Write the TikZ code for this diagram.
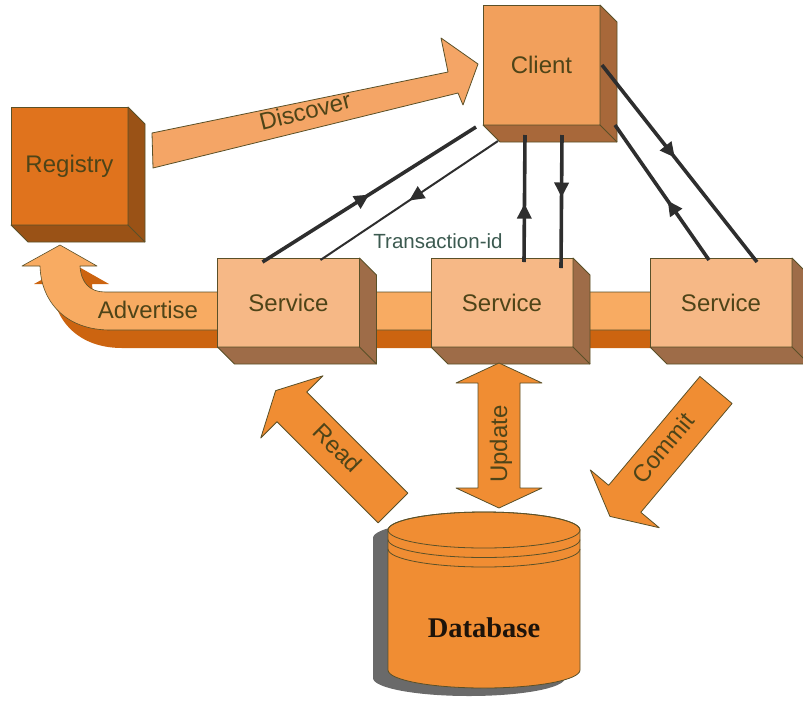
\documentclass[tikz,border=0pt]{standalone}
\usepackage{fontspec}
\setmainfont{Liberation Sans}
\newfontfamily\serifface{Liberation Serif}
\usetikzlibrary{calc,arrows.meta,decorations.markings}

\definecolor{edge}{HTML}{5A5028}
\definecolor{labeltext}{HTML}{4E4418}
\definecolor{regfront}{HTML}{E0731D}
\definecolor{regside}{HTML}{9A5216}
\definecolor{clifront}{HTML}{F2A05C}
\definecolor{cliside}{HTML}{A8683A}
\definecolor{svcfront}{HTML}{F6B886}
\definecolor{svcside}{HTML}{9E6C48}
\definecolor{bandlight}{HTML}{F8AB62}
\definecolor{banddark}{HTML}{CC6410}
\definecolor{discfill}{HTML}{F4A566}
\definecolor{dbfill}{HTML}{F08D33}
\definecolor{dbshadow}{HTML}{6A6A6A}
\definecolor{txid}{HTML}{3C5A50}
\definecolor{wirecol}{HTML}{2E2E2E}

\tikzset{
  face/.style={draw=edge, line width=0.8pt, inner sep=0pt, outer sep=0pt,
    text=labeltext, font=\fontsize{24}{28}\selectfont},
  regface/.style={face, fill=regfront, minimum width=117pt, minimum height=118pt},
  cliface/.style={face, fill=clifront, minimum width=117pt, minimum height=120pt},
  svcface/.style={face, fill=svcfront, minimum width=142pt, minimum height=89pt},
  label/.style={text=labeltext, font=\fontsize{24}{28}\selectfont, inner sep=0pt},
  blockfill/.style={fill=dbfill, draw=edge, line width=0.8pt, line join=round},
  wire/.style={draw=wirecol, line width=3.6pt},
  thinwire/.style={draw=wirecol, line width=2pt},
  midarrow/.style={postaction={decorate}, decoration={markings,
    mark=at position #1 with {\arrow{Triangle[length=15pt,width=14pt]}}}}
}

% depth faces (right side and bottom) of a box whose front is a node
\newcommand\boxdepth[2]{%
  \filldraw[fill=#2, draw=edge, line width=0.8pt, line join=round]
    (#1.north east) -- ++(17,17) -- ($(#1.south east)+(17,17)$)
    -- ($(#1.south west)+(17,17)$) -- (#1.south west) -- (#1.south east) -- cycle;
  \draw[edge, line width=0.8pt] (#1.south east) -- ++(17,17);
}

\begin{document}
\begin{tikzpicture}[x=1pt, y=-1pt]
\useasboundingbox (0,0) rectangle (803,705);

% advertise band: dark extrusion, then light front
\path[fill=banddark] [xshift=12pt, yshift=-18pt]
  (800,292) -- (105,292) .. controls (90,292) and (81,283) .. (80,266)
  -- (97,266) -- (60,245) -- (22,266) -- (40,266)
  .. controls (41,302) and (66,330) .. (110,330) -- (800,330) -- cycle;
\path[fill=bandlight, draw=edge, line width=0.6pt, line join=round]
  (800,292) -- (105,292) .. controls (90,292) and (81,283) .. (80,266)
  -- (97,266) -- (60,245) -- (22,266) -- (40,266)
  .. controls (41,302) and (66,330) .. (110,330) -- (800,330);
\node[label] (adv) at (148,310) {Advertise};

% services
\node[svcface] (s1) at (288.5,302.5) {Service};
\node[svcface] (s2) at (502,302.5) {Service};
\node[svcface] (s3) at (721,302.5) {Service};
\boxdepth{s1}{svcside}
\boxdepth{s2}{svcside}
\boxdepth{s3}{svcside}

% registry
\node[regface] (reg) at (69.5,166) {Registry};
\boxdepth{reg}{regside}

% discover arrow
\filldraw[fill=discfill, draw=edge, line width=0.8pt, line join=round]
  (152,133) -- (448,72) -- (441,38) -- (478,64) -- (463,105) -- (458,93)
  -- (153,168) -- cycle;
\node[label, rotate=14] (disc) at (305,111) {Discover};

% client
\node[cliface] (cli) at (541.5,65) {Client};
\boxdepth{cli}{cliside}

% request / reply lines between client and services
\coordinate (a0) at ($(s1.north west)+(45,4)$);
\coordinate (a1) at ($(cli.south west)+(-7,2)$);
\coordinate (b0) at ($(s1.north west)+(103,2)$);
\coordinate (b1) at ($(cli.south west)+(15,16)$);
\coordinate (c0) at ($(s2.north west)+(93,4)$);
\coordinate (c1) at ($(cli.south west)+(42,10)$);
\coordinate (d0) at ($(s2.north west)+(130,10)$);
\coordinate (d1) at ($(cli.south west)+(79,10)$);
\coordinate (e0) at ($(s3.north west)+(107,4)$);
\coordinate (e1) at ($(cli.north east)+(2,60)$);
\coordinate (f0) at ($(s3.north west)+(59,2)$);
\coordinate (f1) at ($(cli.south east)+(15,0)$);

\draw[wire, midarrow=0.5] (a0) -- (a1);
\draw[thinwire, midarrow=0.5] (b1) -- (b0);
\draw[wire, midarrow=0.46] (c0) -- (c1);
\draw[wire, midarrow=0.47] (d1) -- (d0);
\draw[wire, midarrow=0.47] (e1) -- (e0);
\draw[wire, midarrow=0.44] (f0) -- (f1);
\node[text=txid, font=\fontsize{20.5}{23}\selectfont, inner sep=0pt]
  (txn) at (438,241) {Transaction-id};

% read arrow
\begin{scope}[shift={(393,508)}, rotate=135]
  \filldraw[blockfill] (0,-21) -- (143,-21) -- (143,-44) -- (166,0)
    -- (143,44) -- (143,21) -- (0,21) -- cycle;
\end{scope}
\node[label, rotate=-45] (rd) at (338,448) {Read};

% commit arrow
\begin{scope}[shift={(716,390)}, rotate=230]
  \filldraw[blockfill] (0,-21) -- (142,-21) -- (142,-45) -- (165,0)
    -- (142,45) -- (142,21) -- (0,21) -- cycle;
\end{scope}
\node[label, rotate=50] (cm) at (663,448) {Commit};

% update double arrow
\filldraw[blockfill] (499,363) -- (542,383) -- (520,383) -- (520,488)
  -- (542,488) -- (499,508) -- (456,488) -- (478,488) -- (478,383)
  -- (456,383) -- cycle;
\node[label, rotate=90] (up) at (501,444) {Update};

% database cylinder with its shadow
\begin{scope}[xshift=-15pt, yshift=-8pt]
  \fill[dbshadow] (388,530) -- (388,670)
    arc[start angle=180, end angle=360, x radius=96pt, y radius=18pt]
    -- (580,530) arc[start angle=0, end angle=180, x radius=96pt, y radius=18pt]
    -- cycle;
\end{scope}
\filldraw[fill=dbfill, draw=edge, line width=0.8pt] (388,530) -- (388,670)
  arc[start angle=180, end angle=360, x radius=96pt, y radius=18pt]
  -- (580,530) arc[start angle=0, end angle=180, x radius=96pt, y radius=18pt]
  -- cycle;
\draw[edge, line width=0.8pt] (484,530) ellipse[x radius=96pt, y radius=18pt];
\draw[edge, line width=0.8pt] (388,539.5)
  arc[start angle=180, end angle=360, x radius=96pt, y radius=18pt];
\draw[edge, line width=0.8pt] (388,549)
  arc[start angle=180, end angle=360, x radius=96pt, y radius=18pt];
\node[text=black!85!brown, font=\serifface\bfseries\fontsize{28.5}{32}\selectfont,
  inner sep=0pt] (db) at (484,628) {Database};
\end{tikzpicture}
\end{document}
